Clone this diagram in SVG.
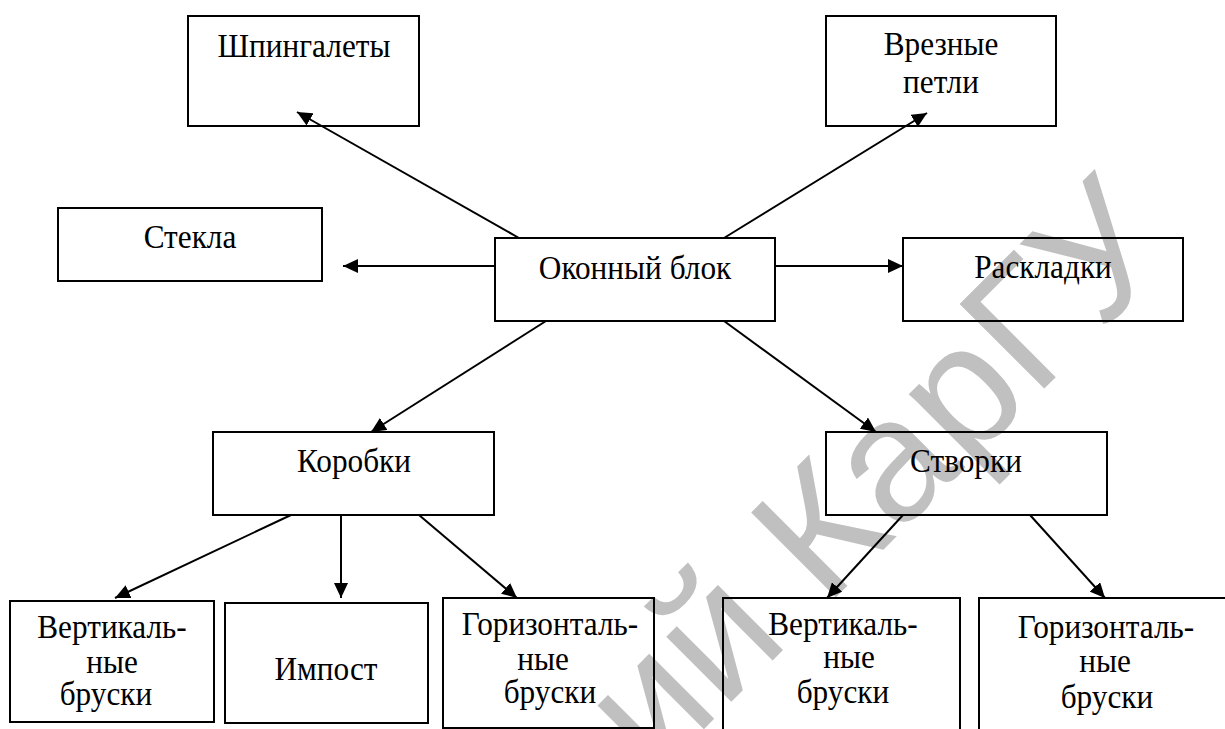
<svg xmlns="http://www.w3.org/2000/svg" width="1225" height="729" viewBox="0 0 1225 729">
  <style>
    .box { fill: none; stroke: #000; stroke-width: 2; }
    .lbl { font-family: 'Liberation Serif', 'Times New Roman', serif; font-size: 34px; fill: #000; text-anchor: middle; }
    .wire { fill: none; stroke: #000; stroke-width: 2; marker-end: url(#head); }
    .stamp { font-family: 'Liberation Sans', Arial, sans-serif; font-size: 174px; fill: #c0c0c0; text-anchor: end; }
  </style>
  <defs>
    <marker id="head" markerUnits="userSpaceOnUse" markerWidth="16" markerHeight="14" refX="15" refY="7" orient="auto">
      <path d="M0,0 L15,7 L0,14 z" fill="#000"/>
    </marker>
  </defs>
  <rect width="1225" height="729" fill="#fff"/>

  <!-- background stamp -->
  <text class="stamp" transform="translate(1179,254) rotate(-45)">Репозиторий КарГУ</text>

  <!-- connectors -->
  <g id="connectors">
    <line class="wire" x1="519" y1="238" x2="297" y2="112"/>
    <line class="wire" x1="724" y1="238" x2="927" y2="113"/>
    <line class="wire" x1="495" y1="266" x2="343" y2="266"/>
    <line class="wire" x1="775" y1="266" x2="903" y2="266"/>
    <line class="wire" x1="546" y1="321" x2="371" y2="432"/>
    <line class="wire" x1="724" y1="321" x2="876" y2="432"/>
    <line class="wire" x1="291" y1="515" x2="115" y2="598"/>
    <line class="wire" x1="341" y1="515" x2="341" y2="598"/>
    <line class="wire" x1="419" y1="515" x2="517" y2="598"/>
    <line class="wire" x1="903" y1="515" x2="827" y2="598"/>
    <line class="wire" x1="1030" y1="515" x2="1105" y2="598"/>
  </g>

  <!-- labels are set slightly narrow: translate to the baseline point, then squeeze x -->
  <g id="shpingalety">
    <rect class="box" x="188" y="16" width="231" height="110"/>
    <text class="lbl" transform="translate(304,57) scale(0.92,1)">Шпингалеты</text>
  </g>
  <g id="vreznye-petli">
    <rect class="box" x="826" y="16" width="230" height="110"/>
    <text class="lbl" transform="translate(941,55) scale(0.92,1)">Врезные</text>
    <text class="lbl" transform="translate(941,93) scale(0.92,1)">петли</text>
  </g>
  <g id="stekla">
    <rect class="box" x="58" y="208" width="264" height="73"/>
    <text class="lbl" transform="translate(190,248) scale(0.92,1)">Стекла</text>
  </g>
  <g id="okonny-blok">
    <rect class="box" x="495" y="238" width="280" height="83"/>
    <text class="lbl" transform="translate(635,279) scale(0.92,1)">Оконный блок</text>
  </g>
  <g id="raskladki">
    <rect class="box" x="903" y="238" width="280" height="83"/>
    <text class="lbl" transform="translate(1043,278) scale(0.92,1)">Раскладки</text>
  </g>
  <g id="korobki">
    <rect class="box" x="213" y="432" width="281" height="83"/>
    <text class="lbl" transform="translate(354,472) scale(0.92,1)">Коробки</text>
  </g>
  <g id="stvorki">
    <rect class="box" x="826" y="432" width="281" height="83"/>
    <text class="lbl" transform="translate(966,472) scale(0.92,1)">Створки</text>
  </g>
  <g id="vert-bruski-1">
    <rect class="box" x="10" y="601" width="204" height="121"/>
    <text class="lbl" transform="translate(112,638) scale(0.92,1)">Вертикаль-</text>
    <text class="lbl" transform="translate(112,673) scale(0.92,1)">ные</text>
    <text class="lbl" transform="translate(106,705) scale(0.92,1)">бруски</text>
  </g>
  <g id="impost">
    <rect class="box" x="225" y="603" width="203" height="120"/>
    <text class="lbl" transform="translate(326,680) scale(0.92,1)">Импост</text>
  </g>
  <g id="goriz-bruski-1">
    <rect class="box" x="443" y="598" width="211" height="130"/>
    <text class="lbl" transform="translate(550,635) scale(0.92,1)">Горизонталь-</text>
    <text class="lbl" transform="translate(543,670) scale(0.92,1)">ные</text>
    <text class="lbl" transform="translate(550,703) scale(0.92,1)">бруски</text>
  </g>
  <g id="vert-bruski-2">
    <path class="box" d="M723,735 V598 H960 V735"/>
    <text class="lbl" transform="translate(843,635) scale(0.92,1)">Вертикаль-</text>
    <text class="lbl" transform="translate(849,668) scale(0.92,1)">ные</text>
    <text class="lbl" transform="translate(843,703) scale(0.92,1)">бруски</text>
  </g>
  <g id="goriz-bruski-2">
    <path class="box" d="M979,735 V598 H1230"/>
    <text class="lbl" transform="translate(1106,638) scale(0.92,1)">Горизонталь-</text>
    <text class="lbl" transform="translate(1105,672) scale(0.92,1)">ные</text>
    <text class="lbl" transform="translate(1107,708) scale(0.92,1)">бруски</text>
  </g>
</svg>
